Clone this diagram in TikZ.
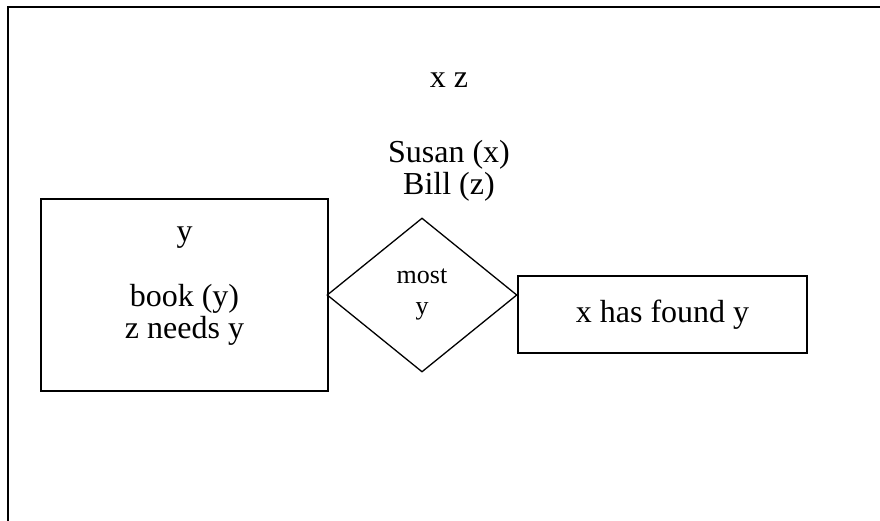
\documentclass[tikz,border=0pt]{standalone}
\usepackage{fontspec}
\setmainfont{Liberation Serif}
\usetikzlibrary{shapes.geometric}
\begin{document}
\begin{tikzpicture}[x=1pt, y=-1pt,
	box/.style={draw, line width=1.3pt, inner sep=0pt},
	txt/.style={align=center, font=\fontsize{32}{32.5}\selectfont},
	smalltxt/.style={align=center, font=\fontsize{26}{31}\selectfont}]
			% Page area, the outer frame runs off to the right and bottom
			\clip (0,0) rectangle (880,520);
			\draw[line width=2pt] (8,7) rectangle (900,540);
			
			% Variables and the names bound to them
			\node[txt] (vars) at (449,80) {x z};
			\node[txt] (names) at (449,171) {Susan (x)\\Bill (z)};
			
			% Restrictor box on the left
			\node[box, minimum width=287pt, minimum height=192pt] (restr) at (184.5,295) {};
			\node[txt] (restrtxt) at (184.5,286) {y\\[32.5pt]book (y)\\z needs y};
			
			% Quantifier diamond
			\node[box, diamond, minimum width=190pt, minimum height=154pt, smalltxt, text depth=6pt] (quant) at (422,295) {most\\y};
			
			% Nuclear scope box on the right
			\node[box, minimum width=289pt, minimum height=77pt, txt] (scope) at (662.5,314.5) {x has found y};
			
		\end{tikzpicture}
\end{document}
